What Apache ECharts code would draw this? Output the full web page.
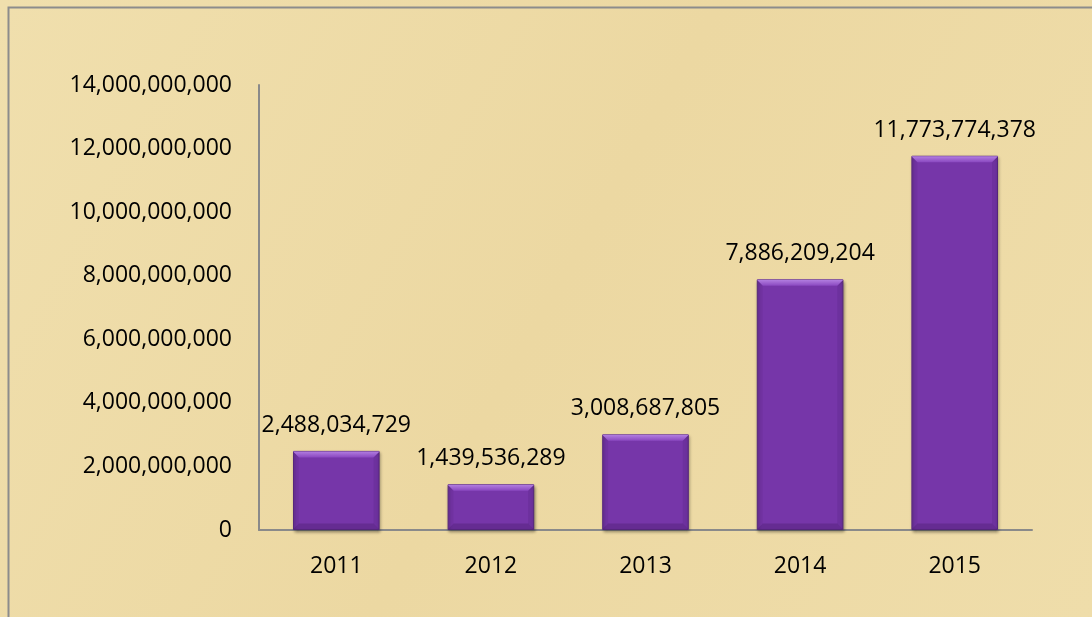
<!DOCTYPE html>
<html><head><meta charset="utf-8">
<script src="https://cdn.jsdelivr.net/npm/echarts@6/dist/echarts.min.js"></script>
<style>html,body{margin:0;padding:0;background:#EEDBA5}#c{width:1092px;height:617px}</style>
</head><body><div id="c"></div>
<script>
const categories = ['2011', '2012', '2013', '2014', '2015'];
const values = [2488034729, 1439536289, 3008687805, 7886209204, 11773774378];
const yMin = 0, yMax = 14000000000, yInterval = 2000000000;

const fmt = v => Number(v).toLocaleString('en-US');
const FONT = "'Open Sans', 'Liberation Sans', sans-serif";
const BAR_RATIO = 0.56;

const chart = echarts.init(document.getElementById('c'), null, {renderer: 'canvas'});
chart.setOption({
  backgroundColor: {
    type: 'linear', x: 0, y: 0, x2: 1, y2: 1,
    colorStops: [
      {offset: 0, color: '#F0DFAD'},
      {offset: 0.5, color: '#ECD8A2'},
      {offset: 1, color: '#EFDDAA'}
    ]
  },
  animation: false,
  textStyle: {fontFamily: FONT},
  graphic: [{
    type: 'rect', left: 6, top: 5, silent: true,
    shape: {width: 1200, height: 700},
    style: {fill: 'none', stroke: '#8c8c8c', lineWidth: 2}
  }],
  grid: {left: 259, right: 60, top: 85, bottom: 87, containLabel: false},
  xAxis: {
    type: 'category', data: categories,
    axisLine: {lineStyle: {color: '#8a8a8a', width: 2}},
    axisTick: {show: false},
    axisLabel: {color: '#000', fontSize: 23, margin: 25, fontFamily: FONT}
  },
  yAxis: {
    type: 'value', min: yMin, max: yMax, interval: yInterval,
    axisLine: {show: true, lineStyle: {color: '#8a8a8a', width: 2}},
    axisTick: {show: false},
    splitLine: {show: false},
    axisLabel: {color: '#000', fontSize: 23, margin: 27, fontFamily: FONT, formatter: fmt}
  },
  series: [{
    type: 'bar', data: values, barWidth: (BAR_RATIO * 100) + '%', z: 2,
    itemStyle: {
      color: '#7636a9',
      borderColor: '#5a2a80', borderWidth: 1,
      shadowColor: 'rgba(0,0,0,0.35)', shadowBlur: 3, shadowOffsetX: 1, shadowOffsetY: 2
    },
    label: {
      show: true, position: 'top', distance: 14, color: '#000',
      fontSize: 23, fontFamily: FONT, formatter: p => fmt(p.value)
    }
  }, {
    type: 'custom', data: values.map((v, i) => [i, v]), z: 3, silent: true,
    encode: {x: 0, y: 1},
    renderItem: (params, api) => {
      const top = api.coord([api.value(0), api.value(1)]);
      const base = api.coord([api.value(0), 0]);
      const w = api.size([1, 0])[0] * BAR_RATIO;
      const x0 = top[0] - w / 2, x1 = top[0] + w / 2;
      const y0 = top[1] + 0.5, y1 = base[1] - 0.5;
      const b = 6;
      return {
        type: 'group',
        children: [
          {type: 'polygon', shape: {points: [[x0, y0], [x1, y0], [x1 - b, y0 + b], [x0 + b, y0 + b]]},
           style: {fill: {type: 'linear', x: 0, y: 0, x2: 0, y2: 1, colorStops: [{offset: 0, color: '#b27ee0'}, {offset: 1, color: '#8a48c0'}]}}},
          {type: 'polygon', shape: {points: [[x0, y0], [x0 + b, y0 + b], [x0 + b, y1 - b], [x0, y1]]},
           style: {fill: 'rgba(60,20,90,0.08)'}},
          {type: 'polygon', shape: {points: [[x1, y0], [x1 - b, y0 + b], [x1 - b, y1 - b], [x1, y1]]},
           style: {fill: 'rgba(60,20,90,0.14)'}},
          {type: 'polygon', shape: {points: [[x0, y1], [x0 + b, y1 - b], [x1 - b, y1 - b], [x1, y1]]},
           style: {fill: 'rgba(50,15,80,0.25)'}}
        ]
      };
    }
  }]
});
</script></body></html>
